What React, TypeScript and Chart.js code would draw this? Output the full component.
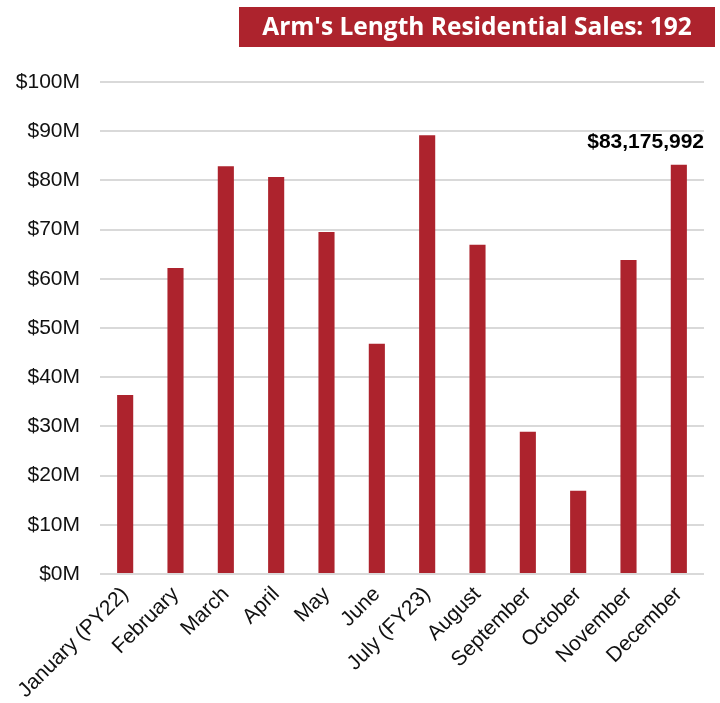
import React, { useEffect, useRef } from "react";
import { Chart, registerables } from "chart.js";

Chart.register(...registerables);

const categories = [
  "January (PY22)", "February", "March", "April", "May", "June",
  "July (FY23)", "August", "September", "October", "November", "December",
];
const salesValues = [
  36400000, 62200000, 82900000, 80700000, 69500000, 46800000,
  89200000, 66900000, 28900000, 16900000, 63800000, 83175992,
];
const titleText = "Arm's Length Residential Sales: 192";
const labelIndex = 11;
const labelText = "$83,175,992";

const RED = "#ad232d";

const decorPlugin = {
  id: "decor",
  afterDraw(chart: any) {
    const ctx = chart.ctx;
    ctx.save();
    // title box
    ctx.fillStyle = RED;
    ctx.fillRect(239, 7, 476, 40);
    ctx.fillStyle = "#ffffff";
    ctx.font = "bold 24.5px 'Open Sans'";
    ctx.textAlign = "center";
    ctx.textBaseline = "middle";
    ctx.fillText(titleText, 477, 28);
    // data label
    const meta = chart.getDatasetMeta(0);
    const bar = meta.data[labelIndex];
    if (bar) {
      ctx.font = "bold 21px 'Liberation Sans', Arial";
      ctx.fillStyle = "#000000";
      const w = ctx.measureText(labelText).width;
      const right = Math.min(bar.x + w / 2, chart.chartArea.right);
      ctx.textAlign = "right";
      ctx.textBaseline = "alphabetic";
      ctx.fillText(labelText, right, bar.y - 17);
    }
    ctx.restore();
  },
};

export default function App() {
  const ref = useRef<HTMLCanvasElement | null>(null);
  useEffect(() => {
    if (!ref.current) return;
    const chart = new Chart(ref.current, {
      type: "bar",
      data: {
        labels: categories,
        datasets: [
          {
            data: salesValues,
            backgroundColor: RED,
            borderWidth: 0,
            categoryPercentage: 1,
            barPercentage: 0.32,
          },
        ],
      },
      options: {
        responsive: false,
        animation: false,
        layout: { padding: { top: 82, left: 15, right: 16, bottom: 0 } },
        plugins: { legend: { display: false }, tooltip: { enabled: false } },
        scales: {
          x: {
            grid: { display: false, drawTicks: false },
            border: { display: false },
            afterFit: (scale: any) => {
              scale.paddingLeft = 0;
              scale.paddingRight = 0;
              scale.height = 129;
            },
            ticks: {
              color: "#111",
              font: { family: "'Liberation Sans', Arial", size: 21 },
              maxRotation: 45,
              minRotation: 45,
              autoSkip: false,
              padding: 8,
            },
          },
          y: {
            min: 0,
            max: 100000000,
            grid: { color: "#d9d9d9", lineWidth: 2, drawTicks: false },
            border: { display: false },
            afterFit: (scale: any) => {
              scale.width = 85;
            },
            ticks: {
              stepSize: 10000000,
              color: "#111",
              padding: 20,
              font: { family: "'Liberation Sans', Arial", size: 21 },
              callback: (v: any) => "$" + Math.round(Number(v) / 1000000) + "M",
            },
          },
        },
      },
      plugins: [decorPlugin],
    });
    return () => chart.destroy();
  }, []);
  return (
    <div style={{ position: "fixed", left: 0, top: 0, width: 720, height: 703, background: "#fff" }}>
      <canvas ref={ref} width={720} height={703} />
    </div>
  );
}
